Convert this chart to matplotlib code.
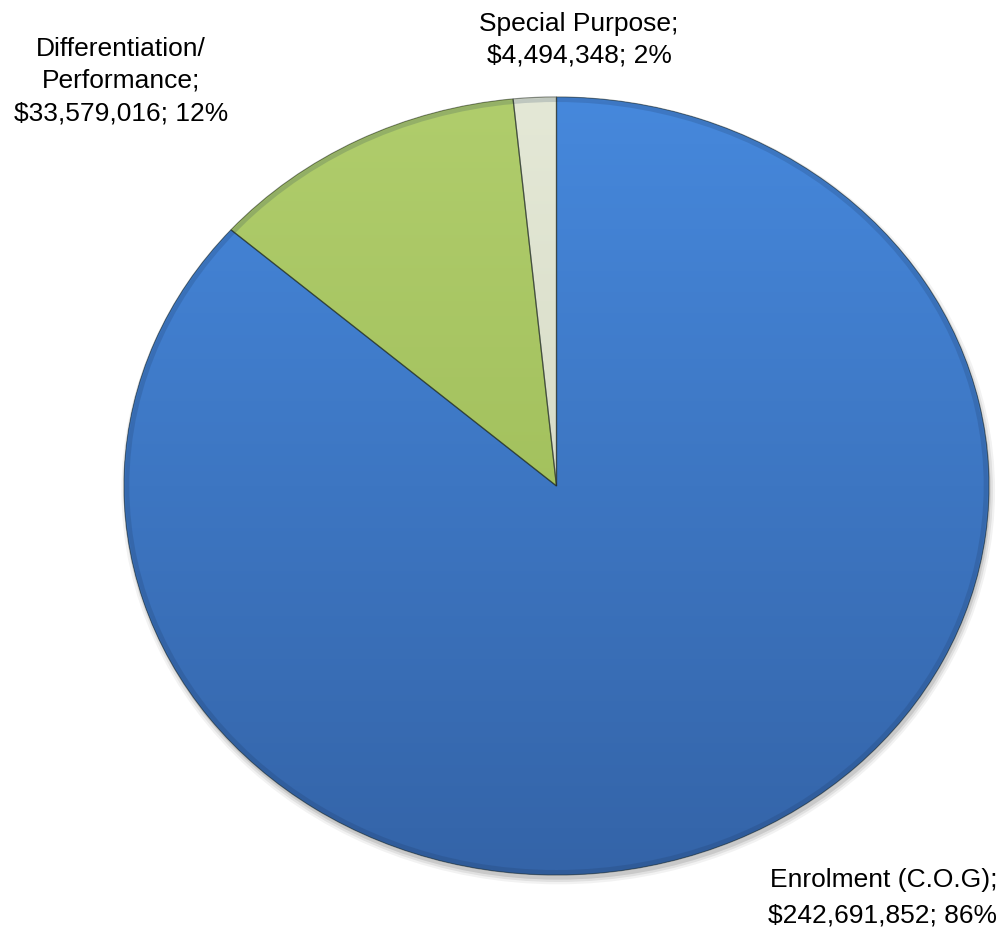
import matplotlib.pyplot as plt
import numpy as np
from matplotlib.colors import LinearSegmentedColormap
from matplotlib.patches import Rectangle, Ellipse, Wedge

categories = ["Enrolment (C.O.G)", "Differentiation/\nPerformance", "Special Purpose"]
amounts = [242691852, 33579016, 4494348]
shares = ["86%", "12%", "2%"]

W, H = 999, 927
fig = plt.figure(figsize=(W / 100, H / 100), dpi=100)
plt.rcParams["font.family"] = ["Liberation Sans", "DejaVu Sans"]


def fx(px):
    return px / W


def fy(py):
    return 1 - py / H


# oval pie box in pixels (left, right, top, bottom), padded so edges aren't clipped
left, right, top, bottom = 124, 989, 97, 875
pad = 1.03
cx, cy = (left + right) / 2, (top + bottom) / 2
hw, hh = (right - left) / 2 * pad, (bottom - top) / 2 * pad
ax = fig.add_axes([fx(cx - hw), fy(cy + hh), 2 * hw / W, 2 * hh / H])

# (top colour, bottom colour) for each slice gradient
shades = [("#4688dc", "#3464a8"), ("#b0cd6c", "#97b650"), ("#e4e8d6", "#cdd2bb")]

wedges, _ = ax.pie(amounts, startangle=90, counterclock=False,
                   colors=[s[1] for s in shades],
                   wedgeprops=dict(linewidth=0))
ax.set_aspect("auto")

# soft drop shadow under the pie
for k, a in enumerate([0.10, 0.07, 0.05]):
    ax.add_patch(Ellipse((0.004, -0.012), 2 + 0.01 * k, 2 + 0.012 * k,
                         facecolor="#000000", alpha=a, lw=0, zorder=0))

grad = np.linspace(0, 1, 256).reshape(-1, 1)
for w, (c_top, c_bot) in zip(wedges, shades):
    cmap = LinearSegmentedColormap.from_list("slice", [c_bot, c_top])
    im = ax.imshow(grad, cmap=cmap, extent=(-1, 1, -1, 1), origin="lower",
                   aspect="auto", zorder=1.5, interpolation="bilinear")
    im.set_clip_path(w)
    # thin dark outline round each slice
    ax.add_patch(Wedge(w.center, w.r, w.theta1, w.theta2, fill=False,
                       edgecolor=(0.1, 0.14, 0.12, 0.5), linewidth=0.9, zorder=2.1))

# darker rim along the outside of the pie
ax.add_patch(Ellipse((0, 0), 1.985, 1.985, fill=False,
                     edgecolor=(0.1, 0.2, 0.35, 0.18), linewidth=3, zorder=2))

ax.set_xlim(-pad, pad)
ax.set_ylim(-pad, pad)
ax.axis("off")

# white background behind the bottom-right label
fig.add_artist(Rectangle((fx(743), 0), 1 - fx(743), fy(850), transform=fig.transFigure,
                         facecolor="white", edgecolor="none", zorder=3))

labels = [f"{c};\n${v:,.0f}; {s}" for c, v, s in zip(categories, amounts, shares)]
txt = dict(fontsize=19, color="black", zorder=4)
# va="baseline" sits the last line on the given y
fig.text(fx(997), fy(922), labels[0], ha="right", va="baseline",
         multialignment="right", linespacing=1.56, **txt)
fig.text(fx(121), fy(120), labels[1], ha="center", va="baseline",
         multialignment="center", linespacing=1.43, **txt)
fig.text(fx(579), fy(62), labels[2], ha="center", va="baseline",
         multialignment="center", linespacing=1.38, **txt)

fig.savefig("out.png", dpi=100, facecolor="white")
